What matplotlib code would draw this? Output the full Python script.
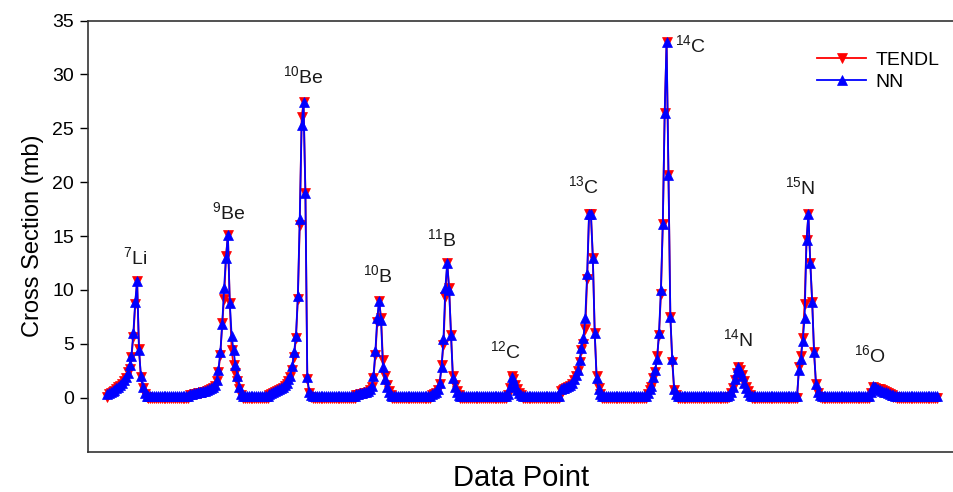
import numpy as np
import matplotlib
matplotlib.use("Agg")
import matplotlib.pyplot as plt

plt.rcParams['font.family'] = ['Liberation Sans', 'DejaVu Sans']
plt.rcParams['mathtext.default'] = 'regular'

# cross sections per target nucleus, 40 points each (mb)
li7_tendl = [0.1, 0.3, 0.45, 0.55, 0.65, 0.8, 0.95, 1.1, 1.3, 1.5, 1.8, 2.4, 2.7, 3.8, 5.6, 8.7, 10.8, 4.5, 1.9, 0.9, 0.3, 0.1] + [0.0]*18
li7_nn = [0.3, 0.45, 0.55, 0.65, 0.75, 0.9, 1.0, 1.2, 1.4, 1.6, 1.9, 2.3, 3.0, 3.9, 6.0, 8.9, 10.8, 4.4, 2.0, 1.0, 0.4, 0.15] + [0.12]*18

be9_tendl = [0.0]*4 + [0.2, 0.25, 0.3, 0.35, 0.4, 0.4, 0.45, 0.5, 0.55, 0.6, 0.7, 0.8, 0.9] \
    + [1.1, 1.5, 2.4, 4.0, 6.9, 9.2, 13.1, 15.1, 8.8, 4.4, 3.0, 2.3, 1.5, 0.8, 0.2] + [0.0]*8
be9_nn = [0.12]*4 + [0.3, 0.35, 0.4, 0.45, 0.5, 0.5, 0.55, 0.6, 0.65, 0.7, 0.8, 0.9, 1.0] \
    + [1.2, 1.6, 2.6, 4.2, 6.8, 10.2, 13.0, 15.1, 8.8, 5.7, 4.4, 3.0, 2.0, 1.0, 0.3] + [0.12]*8

be10_tendl = [0.0]*6 + [0.2, 0.3, 0.4, 0.5, 0.6, 0.7, 0.8, 0.9, 1.1, 1.3, 1.5] \
    + [1.9, 2.6, 3.8, 5.5, 9.2, 16.0, 26.0, 27.4, 19.0, 1.7, 0.4, 0.1] + [0.0]*11
be10_nn = [0.12]*6 + [0.3, 0.4, 0.5, 0.6, 0.7, 0.8, 0.9, 1.0, 1.2, 1.4, 1.7] \
    + [2.0, 2.9, 4.2, 5.7, 9.4, 16.6, 25.3, 27.4, 19.0, 1.9, 0.5, 0.2] + [0.12]*11

b10_tendl = [0.0]*12 + [0.2, 0.25, 0.3, 0.35, 0.4, 0.45, 0.5, 0.7] \
    + [1.0, 1.8, 4.0, 7.0, 9.0, 7.4, 3.5, 2.0, 1.2, 0.6, 0.2] + [0.0]*9
b10_nn = [0.12]*12 + [0.3, 0.35, 0.4, 0.45, 0.5, 0.55, 0.6, 0.8] \
    + [1.1, 2.0, 4.3, 7.4, 9.0, 7.2, 2.8, 1.7, 1.0, 0.5, 0.2] + [0.12]*9

b11_tendl = [0.0]*12 + [0.2, 0.3, 0.4, 0.7] \
    + [1.3, 3.0, 4.9, 9.3, 12.5, 10.2, 5.8, 2.0, 1.2, 0.6, 0.2] + [0.0]*13
b11_nn = [0.12]*12 + [0.3, 0.4, 0.5, 0.8] \
    + [1.4, 2.8, 5.4, 10.2, 12.5, 10.0, 5.8, 1.8, 1.0, 0.5, 0.2] + [0.12]*13

c12_tendl = [0.0]*12 + [0.2, 0.9, 2.0, 1.7, 1.2, 0.8, 0.4, 0.2] + [0.0]*20
c12_nn = [0.12]*12 + [0.3, 1.0, 1.9, 1.6, 1.1, 0.7, 0.4, 0.2] + [0.12]*20

c13_tendl = [0.6, 0.7, 0.8, 0.9, 1.0, 1.1, 1.3, 1.6, 2.0, 2.5, 3.3, 4.4, 5.0, 6.4, 11.0,
             17.0, 17.0, 13.0, 6.0, 2.0, 0.9, 0.3] + [0.0]*18
c13_nn = [0.8, 0.85, 0.9, 1.0, 1.1, 1.2, 1.4, 1.7, 2.1, 2.6, 3.5, 4.6, 5.5, 7.4, 11.5,
          17.0, 17.0, 13.0, 6.0, 1.8, 0.8, 0.3] + [0.12]*18

c14_tendl = [0.0]*6 + [0.3, 0.7, 1.0, 1.8, 2.4, 3.9, 5.8, 9.6, 16.1, 26.4, 33.0, 20.7, 7.5, 3.3, 0.7, 0.2] + [0.0]*18
c14_nn = [0.12]*6 + [0.4, 0.8, 1.1, 1.9, 2.6, 3.6, 6.0, 10.0, 16.1, 26.4, 33.0, 20.7, 7.5, 3.6, 0.8, 0.3] + [0.12]*18

n14_tendl = [0.0]*9 + [0.1, 0.4, 0.9, 1.6, 2.3, 2.8, 2.6, 2.1, 1.5, 1.0, 0.6, 0.2] + [0.0]*19
n14_nn = [0.12]*9 + [0.2, 0.5, 1.0, 1.7, 2.4, 2.8, 2.5, 2.0, 1.4, 0.9, 0.5, 0.2] + [0.12]*19

n15_tendl = [0.0]*6 + [2.8, 3.9, 5.5, 8.7, 14.6, 17.0, 12.5, 8.9, 4.2, 1.3, 0.4, 0.1] + [0.0]*22
n15_nn = [0.12]*6 + [2.6, 3.6, 5.3, 7.4, 14.6, 17.0, 12.5, 8.9, 4.2, 1.3, 0.5, 0.2] + [0.12]*22

o16_tendl = [0.0]*4 + [0.4, 1.0, 0.9, 0.8, 0.8, 0.8, 0.7, 0.6, 0.5, 0.4, 0.3, 0.2, 0.1, 0.05] + [0.0]*22
o16_nn = [0.12]*4 + [0.5, 1.1, 1.0, 0.9, 0.8, 0.7, 0.6, 0.5, 0.5, 0.4, 0.3, 0.25, 0.2, 0.15] + [0.12]*22

tendl = li7_tendl + be9_tendl + be10_tendl + b10_tendl + b11_tendl + c12_tendl \
    + c13_tendl + c14_tendl + n14_tendl + n15_tendl + o16_tendl
nn = li7_nn + be9_nn + be10_nn + b10_nn + b11_nn + c12_nn \
    + c13_nn + c14_nn + n14_nn + n15_nn + o16_nn

nuclides = [r'$^{7}$Li', r'$^{9}$Be', r'$^{10}$Be', r'$^{10}$B', r'$^{11}$B', r'$^{12}$C',
            r'$^{13}$C', r'$^{14}$C', r'$^{14}$N', r'$^{15}$N', r'$^{16}$O']
label_pos = [(14.8, 13.0), (64.6, 17.2), (103.7, 29.8), (143.4, 11.4), (177.2, 14.7), (210.6, 4.3),
             (251.9, 19.6), (308.5, 32.7), (333.9, 5.4), (366.7, 19.5), (403.7, 3.9)]

x = np.arange(len(nn))

fig = plt.figure(figsize=(9.54, 4.92), dpi=100)
ax = fig.add_axes([0.0922, 0.0823, 0.9078, 0.876])

ax.plot(x, tendl, color='#ff0000', lw=1.3, marker='v', ms=7, mew=0.5, mec='#ff0000', label='TENDL')
ax.plot(x, nn, color='#0000ff', lw=1.3, marker='^', ms=7, mew=0.5, mec='#0000ff', label='NN')

for name, (tx, ty) in zip(nuclides, label_pos):
    ax.text(tx, ty, name, fontsize=14, ha='center', va='center', color='#1a1a1a')

ax.set_xlim(-10, 448)
ax.set_ylim(-5, 35)
ax.set_yticks(np.arange(0, 36, 5))
ax.set_xticks([])
ax.tick_params(axis='y', direction='out', length=6, width=1, labelsize=14, pad=4)
ax.spines['right'].set_visible(False)
for s in ['left', 'bottom', 'top']:
    ax.spines[s].set_linewidth(1.2)
    ax.spines[s].set_color('#333333')

ax.set_ylabel('Cross Section (mb)', fontsize=17, labelpad=6)
ax.set_xlabel('Data Point', fontsize=21, labelpad=9)

ax.legend(loc='upper left', bbox_to_anchor=(0.822, 0.97), frameon=False, fontsize=14,
          handlelength=2.5, handletextpad=0.5, labelspacing=0.25)

fig.savefig('out.png', dpi=100)
